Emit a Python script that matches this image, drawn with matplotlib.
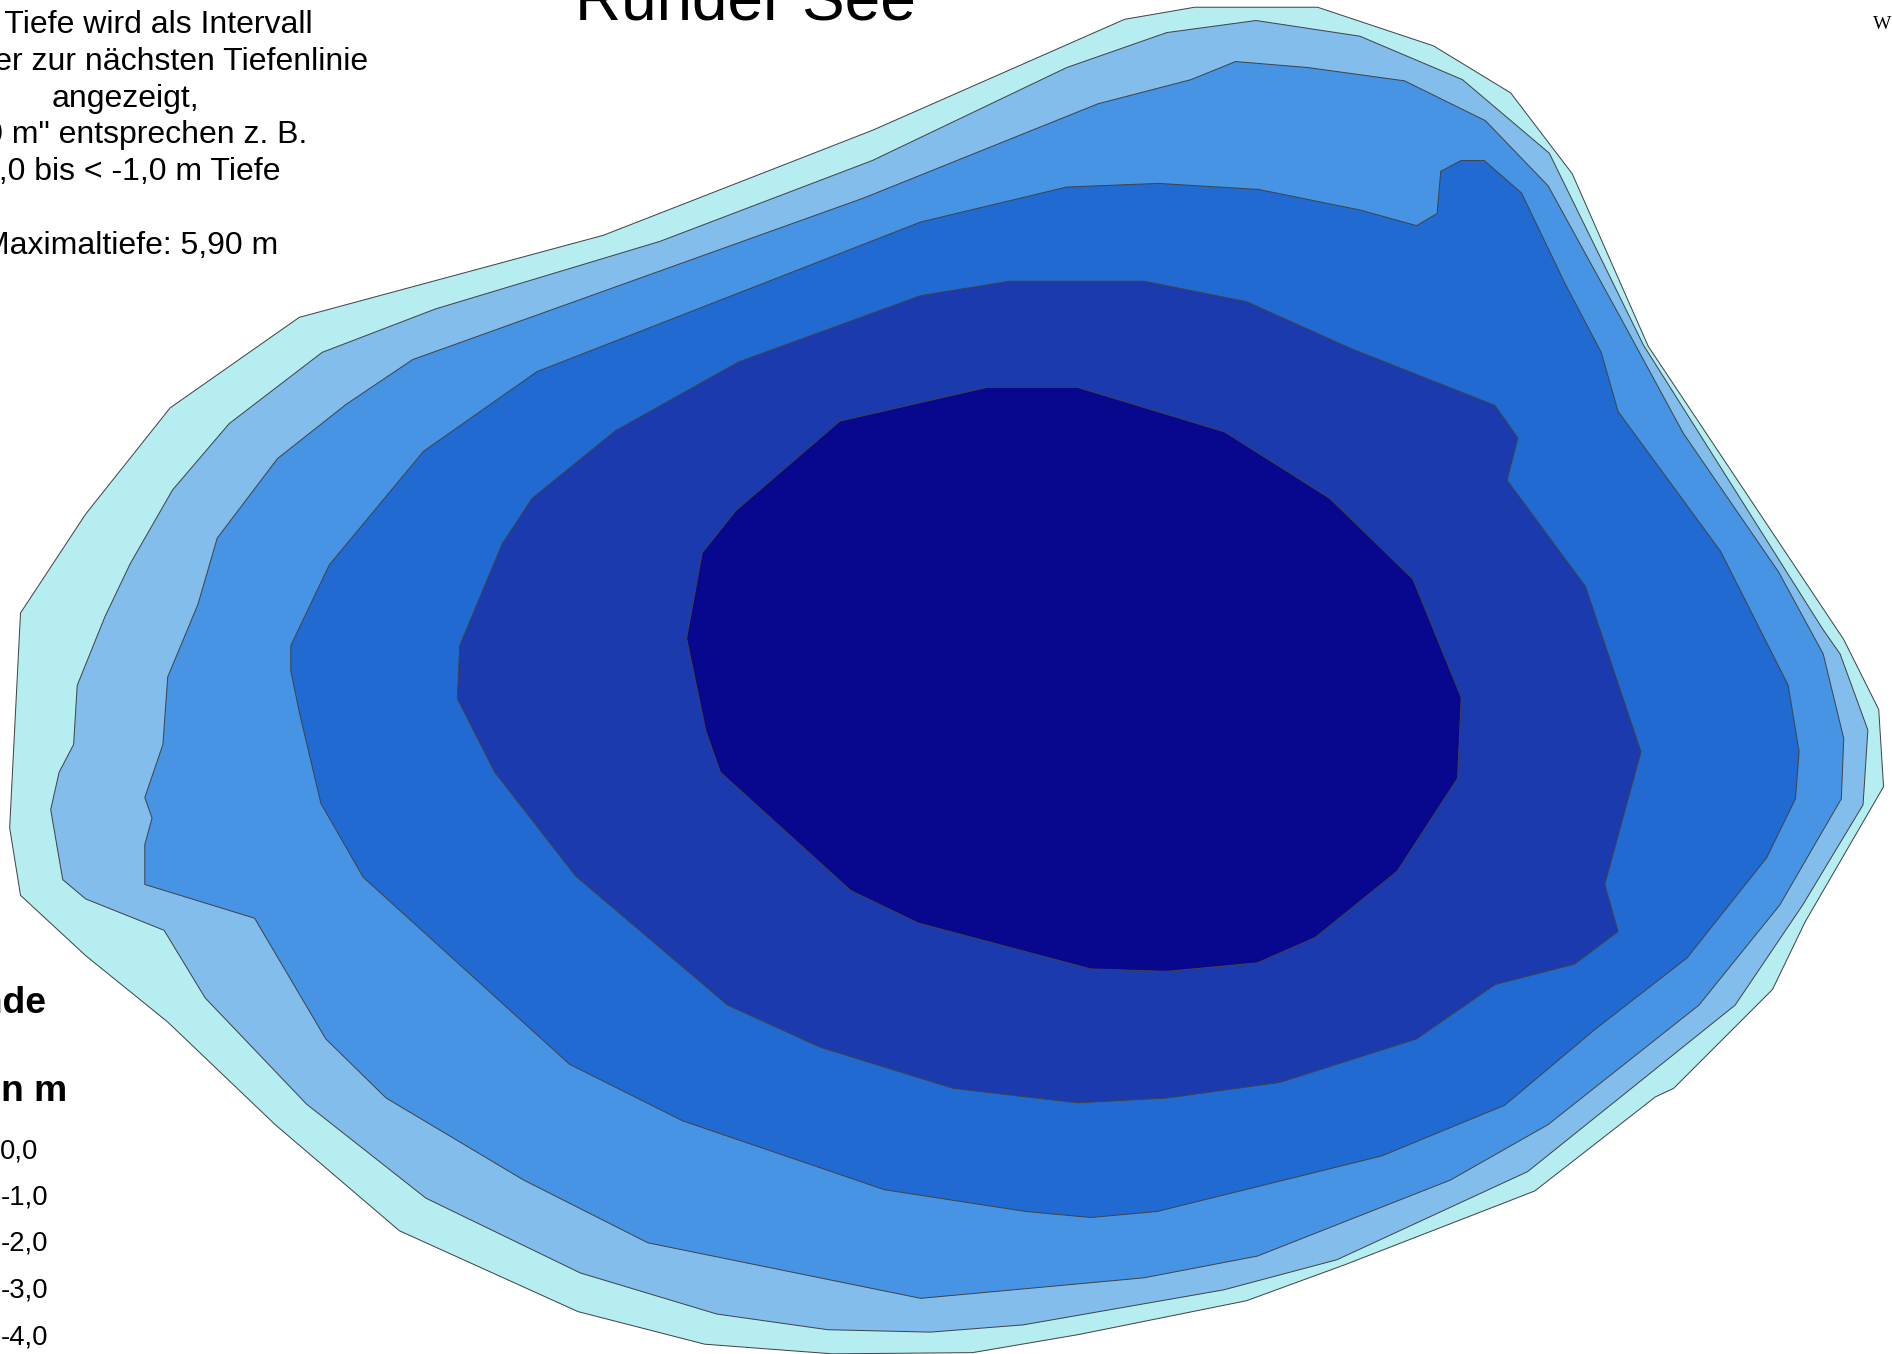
import matplotlib
matplotlib.use("Agg")
import matplotlib.pyplot as plt
from matplotlib.patches import Polygon

plt.rcParams['font.family'] = ['Liberation Sans', 'DejaVu Sans']

W, H = 1892, 1354
SX = 1568.0

depth_colors = ['#B5EDF0', '#82BDEB', '#4694E3', '#216AD2', '#1A3AAE', '#08088F']

zone_0 = [(932,16),(990,6),(1092,6),(1188,38),(1252,77),(1303,144),(1366,287),(1528,530),(1557,588),(1561,652),(1496,764),(1469,820),(1387,902),(1372,909),(1272,987),(1115,1048),(1033,1078),(894,1106),(806,1121),(690,1122),(584,1114),(479,1087),(331,1020),(228,932),(139,847),(71,792),(17,742),(8,686),(17,508),(71,426),(141,338),(248,263),(500,195),(723,108)]
zone_1 = [(1041,17),(1127,30),(1212,66),(1284,127),(1362,286),(1511,522),(1525,542),(1548,605),(1544,667),(1494,750),(1438,833),(1266,971),(1108,1044),(1014,1069),(848,1098),(771,1104),(686,1102),(594,1089),(481,1055),(353,993),(254,915),(170,827),(136,771),(71,745),(52,729),(42,671),(49,640),(61,617),(64,568),(87,511),(108,467),(143,406),(190,351),(267,292),(361,256),(547,200),(723,133),(884,56),(967,27)]
zone_2 = [(1024,51),(1084,56),(1164,67),(1231,100),(1283,154),(1344,265),(1395,359),(1474,474),(1511,542),(1528,612),(1526,662),(1475,750),(1408,833),(1283,932),(1202,978),(1042,1041),(948,1059),(763,1076),(537,1030),(434,978),(320,910),(270,861),(211,761),(120,733),(120,700),(126,678),(120,661),(135,617),(139,561),(164,501),(180,446),(230,380),(287,335),(342,298),(716,164),(910,86),(987,66)]
zone_3 = [(1211,133),(1230,133),(1261,160),(1297,235),(1327,292),(1341,341),(1426,457),(1482,568),(1491,623),(1488,662),(1464,711),(1398,794),(1322,853),(1247,916),(1145,958),(959,1004),(904,1009),(850,1004),(733,986),(566,929),(472,882),(301,727),(266,666),(248,590),(241,556),(241,535),(273,468),(351,374),(445,308),(763,184),(884,155),(960,152),(1043,157),(1127,174),(1174,187),(1191,177),(1194,142)]
zone_4 = [(837,233),(948,233),(1033,250),(1120,289),(1239,336),(1258,363),(1249,398),(1314,486),(1360,623),(1330,733),(1341,772),(1305,799),(1239,816),(1174,861),(1061,897),(967,910),(893,914),(790,902),(680,868),(603,833),(477,726),(410,640),(379,579),(381,535),(416,451),(441,413),(510,357),(612,300),(763,245)]
zone_5 = [(818,321),(893,321),(1015,358),(1102,413),(1171,480),(1211,578),(1208,645),(1158,722),(1090,777),(1042,798),(967,805),(904,803),(761,765),(705,738),(597,640),(585,606),(569,529),(582,458),(610,423),(696,349)]
zones = [zone_0, zone_1, zone_2, zone_3, zone_4, zone_5]

title = 'Runder See'
note_lines = ['Die Tiefe wird als Intervall', 'bis unter zur nächsten Tiefenlinie', 'angezeigt,',
              '"0 -1,0 m" entsprechen z. B.', '0,0 bis < -1,0 m Tiefe', 'Maximaltiefe: 5,90 m']
note_baselines = [33, 69.8, 106.6, 143.4, 180.2, 253.8]
note_right = [313, 368.5, 199.5, 307, 280.5, 278]
legend_heads = ['Legende', 'Tiefe in m']
legend_labels = ['0,0', '-1,0', '-2,0', '-3,0', '-4,0']
legend_y = [1151, 1197.5, 1244, 1290.7, 1337]

fig = plt.figure(figsize=(W/100, H/100), dpi=100, facecolor='white')
ax = fig.add_axes([0, 0, 1, 1])
ax.set_xlim(0, SX)
ax.set_ylim(SX*H/W, 0)
ax.axis('off')

for pts, c in zip(zones, depth_colors):
    ax.add_patch(Polygon(pts, closed=True, facecolor=c, edgecolor='#404448', linewidth=0.72, joinstyle='miter'))

# overlay axes in pixel coordinates for the texts
tx = fig.add_axes([0, 0, 1, 1], facecolor='none')
tx.set_xlim(0, W)
tx.set_ylim(H, 0)
tx.axis('off')

tx.text(575, 19, title, fontsize=46, ha='left', va='baseline', color='black')
for s, x, y in zip(note_lines, note_right, note_baselines):
    tx.text(x, y, s, fontsize=23.0, ha='right', va='baseline', color='black')
tx.text(47, 1012.7, legend_heads[0], fontsize=26.8, fontweight='bold', ha='right', va='baseline', color='black')
tx.text(67, 1100.7, legend_heads[1], fontsize=26.8, fontweight='bold', ha='right', va='baseline', color='black')
for s, y in zip(legend_labels, legend_y):
    tx.text(0 if s.startswith('0') else 1, y, s, fontsize=19.8, ha='left', va='center', color='black')
tx.text(1873, 29, 'W', fontsize=14, family=['Liberation Serif'], ha='left', va='baseline', color='black')

fig.savefig('out.png', dpi=100, facecolor='white')
